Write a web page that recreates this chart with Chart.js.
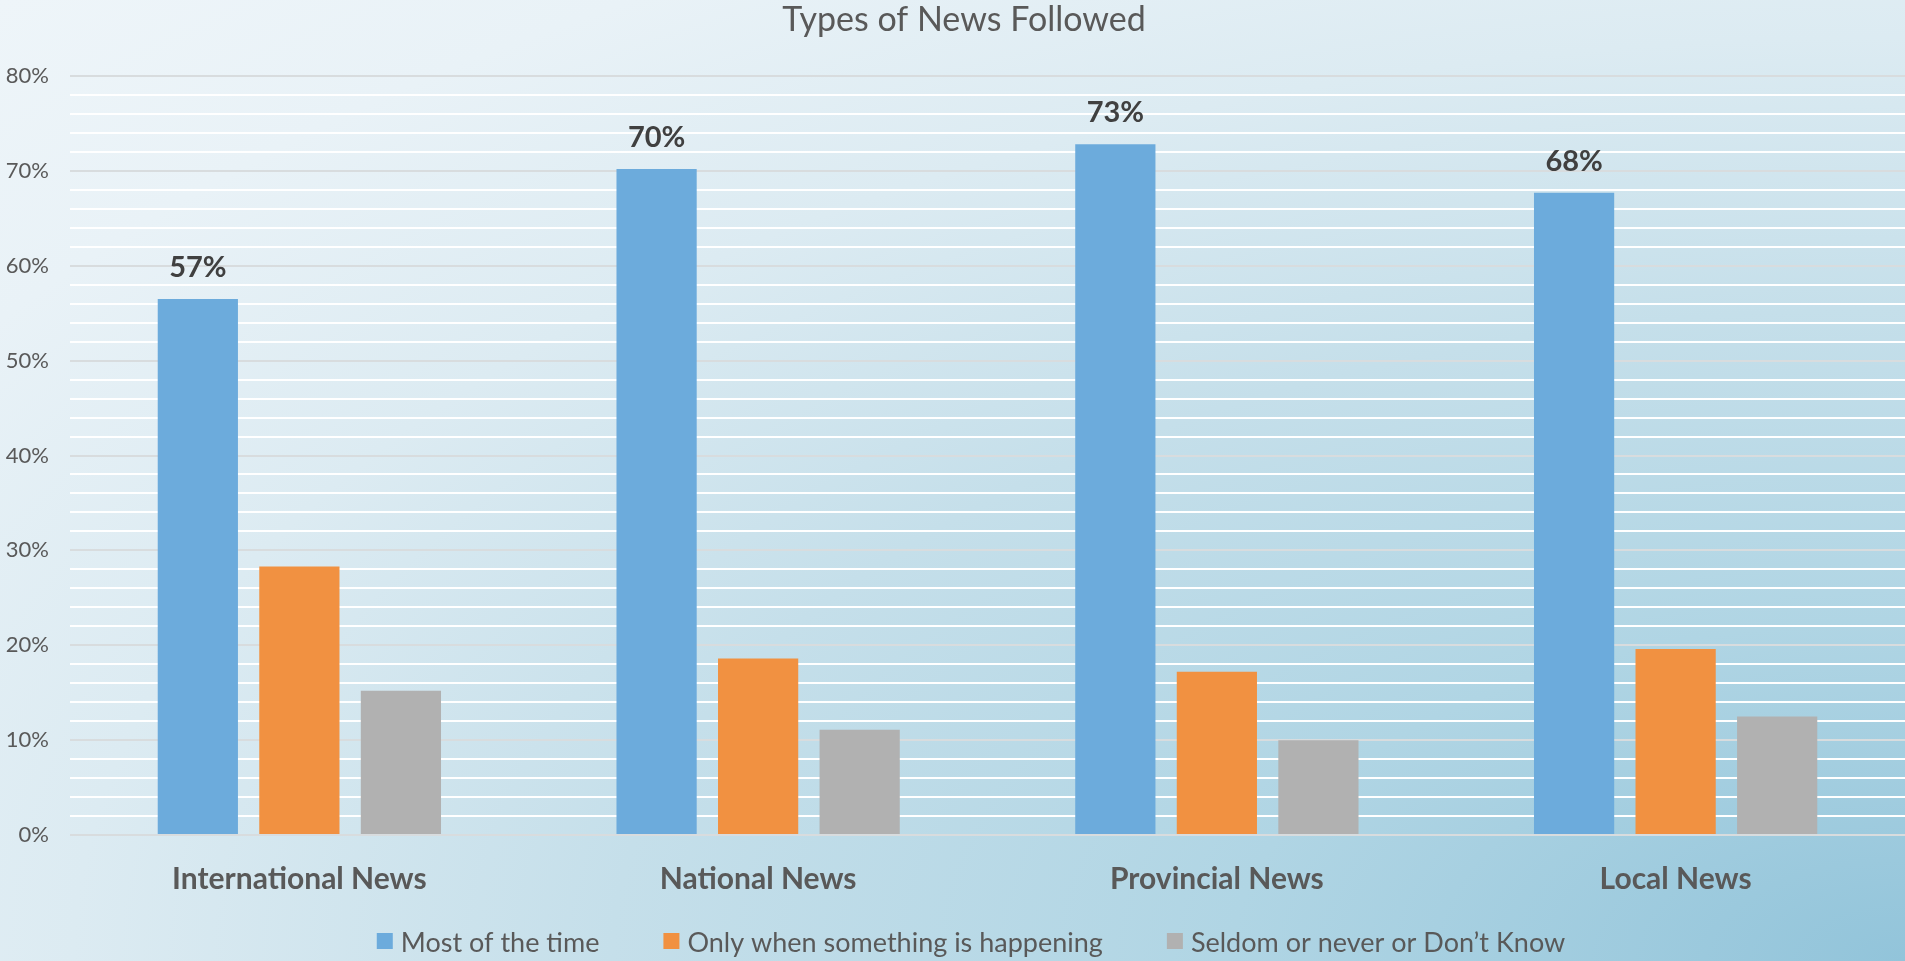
<!DOCTYPE html>
<html>
<head>
<meta charset="utf-8">
<script src="https://cdn.jsdelivr.net/npm/chart.js@4"></script>
<style>
  html, body { margin:0; padding:0; width:1905px; height:961px; overflow:hidden; }
  body {
    background: radial-gradient(ellipse at 100% 100%, #92c4da 0%, #b0d5e4 25%, #c5dfea 48%, #dcebf2 68%, #e9f2f7 85%, #eef5f9 100%);
  }
  #wrap { position:absolute; left:0; top:0; width:1905px; height:961px; }
</style>
</head>
<body>
<div id="wrap"><canvas id="c" width="1905" height="961"></canvas></div>
<script>
const chartTitle = "Types of News Followed";
const categories = ["International News", "National News", "Provincial News", "Local News"];
const seriesNames = ["Most of the time", "Only when something is happening", "Seldom or never or Don\u2019t Know"];
const mostOfTheTime = [56.5, 70.2, 72.8, 67.7];
const onlyWhenHappening = [28.3, 18.6, 17.2, 19.6];
const seldomOrNever = [15.2, 11.1, 10.0, 12.5];
const yMin = 0, yMax = 80, yStep = 2, yLabelStep = 10;

const colors = ["#6cabdc", "#f19141", "#b1b1b1"];
const FONT = "Lato, 'Open Sans', sans-serif";
const textColor = "#595959";

const extras = {
  id: 'extras',
  afterDatasetsDraw(chart) {
    const ctx = chart.ctx;
    ctx.save();
    // data labels on first series
    const meta = chart.getDatasetMeta(0);
    ctx.font = "bold 29px " + FONT;
    ctx.fillStyle = "#404040";
    ctx.textAlign = "center";
    ctx.textBaseline = "alphabetic";
    meta.data.forEach((bar, i) => {
      ctx.fillText(Math.round(mostOfTheTime[i]) + "%", bar.x, bar.y - 22);
    });
    // title
    ctx.font = "34px " + FONT;
    ctx.fillStyle = textColor;
    ctx.fillText(chartTitle, 964, 31);
    // legend
    ctx.font = "27px " + FONT;
    const box = 16, gapBoxText = 8, gapItems = 64;
    const widths = seriesNames.map(n => ctx.measureText(n).width);
    const total = widths.reduce((a, w) => a + box + gapBoxText + w, 0) + gapItems * (seriesNames.length - 1);
    let x = 971 - total / 2;
    ctx.textAlign = "left";
    seriesNames.forEach((n, i) => {
      ctx.fillStyle = colors[i];
      ctx.fillRect(x, 933, box, box);
      ctx.fillStyle = textColor;
      ctx.fillText(n, x + box + gapBoxText, 952);
      x += box + gapBoxText + widths[i] + gapItems;
    });
    ctx.restore();
  }
};

new Chart(document.getElementById('c'), {
  type: 'bar',
  data: {
    labels: categories,
    datasets: [
      { label: seriesNames[0], data: mostOfTheTime, backgroundColor: colors[0] },
      { label: seriesNames[1], data: onlyWhenHappening, backgroundColor: colors[1] },
      { label: seriesNames[2], data: seldomOrNever, backgroundColor: colors[2] }
    ]
  },
  options: {
    responsive: false,
    animation: false,
    devicePixelRatio: 1,
    categoryPercentage: 0.664,
    barPercentage: 0.79,
    layout: { padding: { top: 76, right: 0, bottom: 0, left: 0 } },
    plugins: { legend: { display: false }, title: { display: false }, tooltip: { enabled: false } },
    scales: {
      x: {
        grid: { display: false, drawTicks: false },
        border: { display: false },
        ticks: { color: textColor, font: { family: FONT, size: 30, weight: 'bold' }, padding: 26 },
        afterFit(scale) { scale.height = 126; }
      },
      y: {
        min: yMin, max: yMax,
        border: { display: false },
        grid: {
          drawTicks: false,
          color: c => (c.tick && c.tick.value % yLabelStep === 0) ? '#d8dcde' : '#ffffff',
          lineWidth: 2
        },
        ticks: {
          stepSize: yStep, autoSkip: false,
          color: textColor, font: { family: FONT, size: 22 }, padding: 21,
          callback: v => (v % yLabelStep === 0) ? v + '%' : ''
        },
        afterFit(scale) { scale.width = 70; }
      }
    }
  },
  plugins: [extras]
});
</script>
</body>
</html>
